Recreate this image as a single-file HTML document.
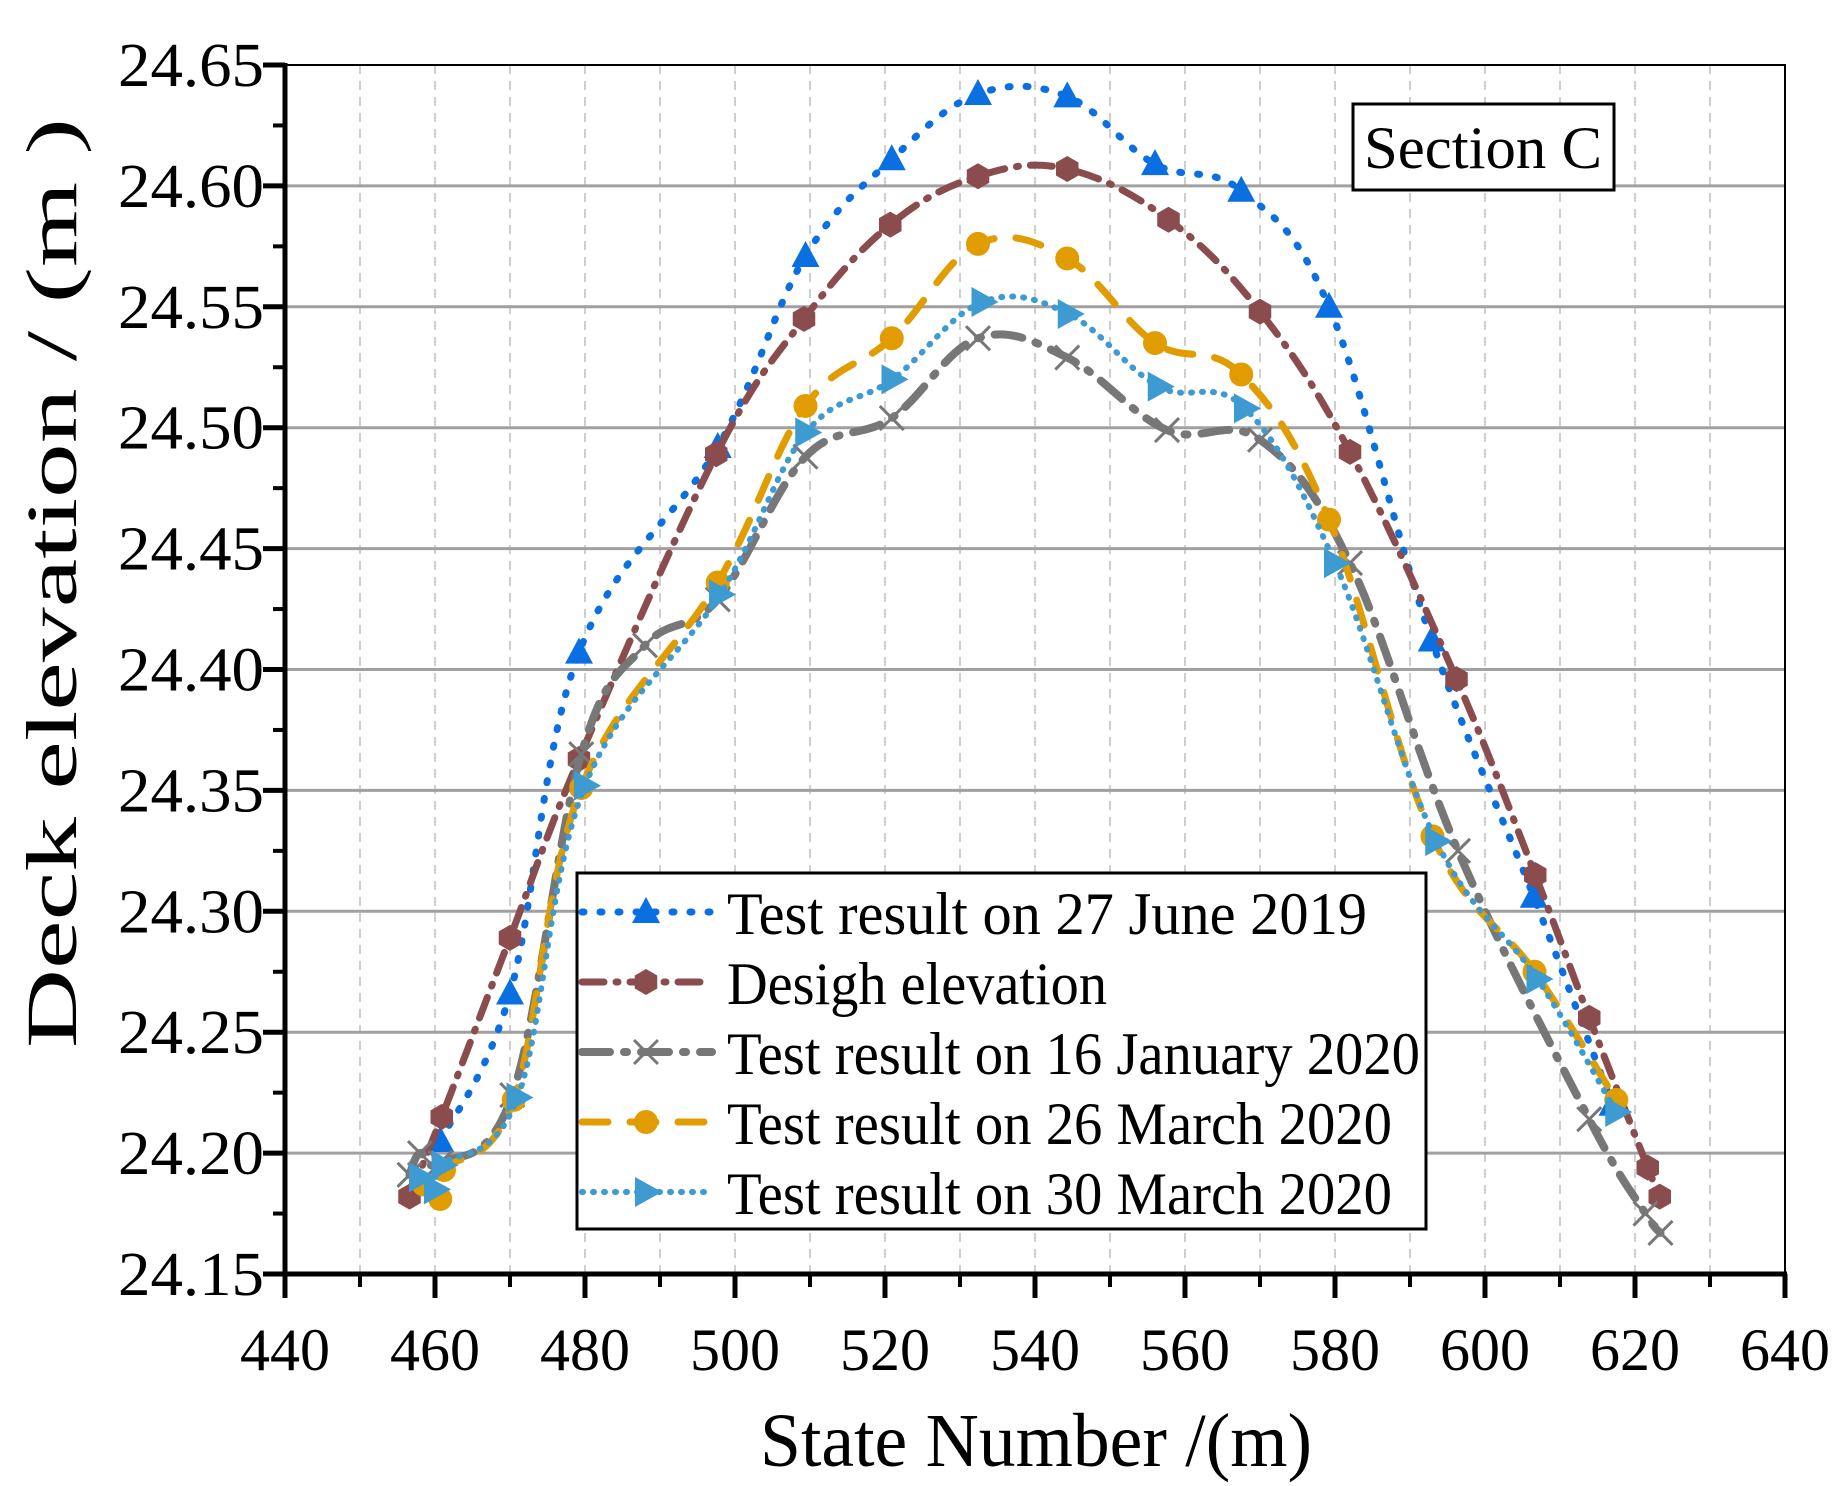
<!DOCTYPE html>
<html><head><meta charset="utf-8"><style>
html,body{margin:0;padding:0;background:#fff}
svg{display:block}
text{font-family:"Liberation Serif",serif;fill:#000}
</style></head><body>
<svg id="chart" width="1847" height="1486" viewBox="0 0 1847 1486">
<g id="grid"></g>
<g id="series"></g>
<g id="axes"></g>
<g>
<rect x="1353" y="104" width="261" height="86" fill="#fff" stroke="#000" stroke-width="3"/>
<text x="1483" y="168" font-size="60" text-anchor="middle" textLength="238" lengthAdjust="spacingAndGlyphs">Section C</text>
</g>
<g id="legend"></g>
<text transform="translate(76,583) rotate(-90)" font-size="72" text-anchor="middle" textLength="930" lengthAdjust="spacingAndGlyphs">Deck elevation / (m )</text>
<text x="1036" y="1466" font-size="76" text-anchor="middle" textLength="552" lengthAdjust="spacingAndGlyphs">State Number /(m)</text>
</svg>
<script>
const xTicks=[440,460,480,500,520,540,560,580,600,620,640];
const yTicks=[24.15,24.20,24.25,24.30,24.35,24.40,24.45,24.50,24.55,24.60,24.65];
const yTickLabels=["24.15","24.20","24.25","24.30","24.35","24.40","24.45","24.50","24.55","24.60","24.65"];
const seriesNames=["Test result on 27 June 2019","Desigh elevation","Test result on 16 January 2020","Test result on 26 March 2020","Test result on 30 March 2020"];
const juneX=[460.7,470.0,479.2,497.7,509.4,520.9,532.4,544.3,556.0,567.5,579.2,592.9,606.5,617.0];
const juneY=[24.205,24.266,24.407,24.492,24.571,24.611,24.638,24.637,24.609,24.598,24.550,24.412,24.306,24.220];
const designX=[456.6,460.9,470.0,479.2,497.5,509.2,520.7,532.4,544.3,557.8,570.0,582.0,596.2,606.7,613.9,621.7,623.3];
const designY=[24.182,24.215,24.289,24.363,24.489,24.545,24.584,24.604,24.607,24.586,24.548,24.490,24.396,24.315,24.256,24.194,24.182];
const janX=[456.6,458.0,460.7,470.3,479.5,488.0,497.7,509.4,520.9,532.4,544.3,557.6,570.0,582.0,596.4,613.9,621.4,623.4];
const janY=[24.191,24.200,24.196,24.224,24.365,24.410,24.429,24.488,24.504,24.537,24.529,24.499,24.495,24.444,24.325,24.214,24.175,24.167];
const marX=[458.5,460.7,461.2,470.5,479.5,497.7,509.4,520.9,532.4,544.3,556.0,567.5,579.2,593.0,606.6,617.5];
const marY=[24.187,24.181,24.193,24.222,24.351,24.436,24.509,24.537,24.576,24.570,24.535,24.522,24.462,24.331,24.275,24.222];
const mar30X=[458.0,460.0,461.0,471.0,480.0,498.0,509.5,521.0,533.0,544.5,556.5,568.0,580.0,593.5,607.0,617.5];
const mar30Y=[24.190,24.185,24.195,24.223,24.352,24.431,24.498,24.520,24.552,24.547,24.517,24.508,24.444,24.329,24.272,24.217];

const X0=285,X1=1785,Y0=1274,Y1=65;
const sx=v=>X0+(v-440)/200*(X1-X0);
const sy=v=>Y0-(v-24.15)/0.5*(Y0-Y1);
const NS="http://www.w3.org/2000/svg";
function mk(tag,attrs,parent){const e=document.createElementNS(NS,tag);for(const k in attrs)e.setAttribute(k,attrs[k]);parent.appendChild(e);return e;}
const grid=document.getElementById('grid'),axes=document.getElementById('axes'),ser=document.getElementById('series'),leg=document.getElementById('legend');

for(let v=450;v<640;v+=10){const l=mk('line',{x1:sx(v),x2:sx(v),y1:Y1,y2:Y0,stroke:'#cfcfcf','stroke-width':2,'stroke-dasharray':'9 7'},grid);

}
yTicks.slice(1,-1).forEach(v=>{const l=mk('line',{x1:X0,x2:X1,y1:sy(v),y2:sy(v),stroke:'#a0a0a0','stroke-width':3},grid);

});

mk('rect',{x:X0,y:Y1,width:X1-X0,height:Y0-Y1,fill:'none',stroke:'#000','stroke-width':2},axes);
mk('line',{x1:X0,x2:X0,y1:Y1-2,y2:Y0+2,stroke:'#000','stroke-width':5},axes);
mk('line',{x1:X0-2,x2:X1+2,y1:Y0,y2:Y0,stroke:'#000','stroke-width':5},axes);
xTicks.forEach(v=>{mk('line',{x1:sx(v),x2:sx(v),y1:Y0,y2:Y0+24,stroke:'#000','stroke-width':5},axes);
const t=mk('text',{x:sx(v),y:1370,'font-size':60,'text-anchor':'middle'},axes);t.textContent=v;

});
for(let v=450;v<640;v+=20)mk('line',{x1:sx(v),x2:sx(v),y1:Y0,y2:Y0+13,stroke:'#000','stroke-width':4},axes);
yTicks.forEach((v,i)=>{mk('line',{x1:X0-22,x2:X0,y1:sy(v),y2:sy(v),stroke:'#000','stroke-width':5},axes);
const t=mk('text',{x:264,y:sy(v)+21,'font-size':62,'text-anchor':'end',textLength:146,lengthAdjust:'spacingAndGlyphs'},axes);t.textContent=yTickLabels[i];

});
for(let v=24.175;v<24.65;v+=0.05)mk('line',{x1:X0-12,x2:X0,y1:sy(v),y2:sy(v),stroke:'#000','stroke-width':4},axes);

function smooth(px,py){let d=`M${px[0]},${py[0]}`;for(let i=0;i<px.length-1;i++){const p0=i?i-1:i,p3=i+2<px.length?i+2:i+1,t=0.18;
const c1x=px[i]+(px[i+1]-px[p0])*t,c1y=py[i]+(py[i+1]-py[p0])*t,c2x=px[i+1]-(px[p3]-px[i])*t,c2y=py[i+1]-(py[p3]-py[i])*t;
d+=` C${c1x},${c1y} ${c2x},${c2y} ${px[i+1]},${py[i+1]}`;}return d;}
function marker(type,x,y,color,g){
 if(type==='tri')return mk('polygon',{points:`${x},${y-15} ${x-14},${y+11} ${x+14},${y+11}`,fill:color},g);
 if(type==='hex'){let p=[];for(let k=0;k<6;k++){const a=Math.PI/3*k+Math.PI/6;p.push((x+13*Math.cos(a))+','+(y+13*Math.sin(a)));}return mk('polygon',{points:p.join(' '),fill:color},g);}
 if(type==='x'){const gg=mk('g',{stroke:color,'stroke-width':3},g);mk('line',{x1:x-12,y1:y-12,x2:x+12,y2:y+12},gg);mk('line',{x1:x-12,y1:y+12,x2:x+12,y2:y-12},gg);return gg;}
 if(type==='circ')return mk('circle',{cx:x,cy:y,r:12,fill:color},g);
 if(type==='rtri')return mk('polygon',{points:`${x+16},${y} ${x-11},${y-15} ${x-11},${y+15}`,fill:color},g);}
const defs=[
 {xs:juneX,ys:juneY,c:'#0a6fe0',d:'2 16',w:7,m:'tri'},
 {xs:designX,ys:designY,c:'#8a4c4c',d:'22 12 2 12',w:7,m:'hex'},
 {xs:janX,ys:janY,c:'#777777',d:'28 14 3 14',w:8,m:'x'},
 {xs:marX,ys:marY,c:'#e09c00',d:'26 22',w:7,m:'circ'},
 {xs:mar30X,ys:mar30Y,c:'#3d9bd2',d:'1 10',w:6,m:'rtri'}];
const names=['series-june-2019','series-design','series-jan-2020','series-mar26-2020','series-mar30-2020'];
defs.forEach((s,i)=>{const g=mk('g',{},ser);


const px=s.xs.map(sx),py=s.ys.map(sy);
mk('path',{d:smooth(px,py),fill:'none',stroke:s.c,'stroke-width':s.w,'stroke-dasharray':s.d,'stroke-linecap':'round'},g);
px.forEach((x,j)=>{const m=marker(s.m,x,py[j],s.c,g);

});});

mk('rect',{x:577,y:873,width:849,height:356,fill:'#fff',stroke:'#000','stroke-width':3},leg);
defs.forEach((s,i)=>{const y=912+i*70;const g=mk('g',{},leg);


mk('line',{x1:582,x2:712,y1:y,y2:y,stroke:s.c,'stroke-width':s.w,'stroke-dasharray':s.d,'stroke-linecap':'round'},g);
marker(s.m,646,y,s.c,g);
const t=mk('text',{x:727,y:y+22,'font-size':60},g);t.textContent=seriesNames[i];
const L=[640,380,693,665,665][i];t.setAttribute('textLength',L);t.setAttribute('lengthAdjust','spacingAndGlyphs');});
</script>
</body></html>
